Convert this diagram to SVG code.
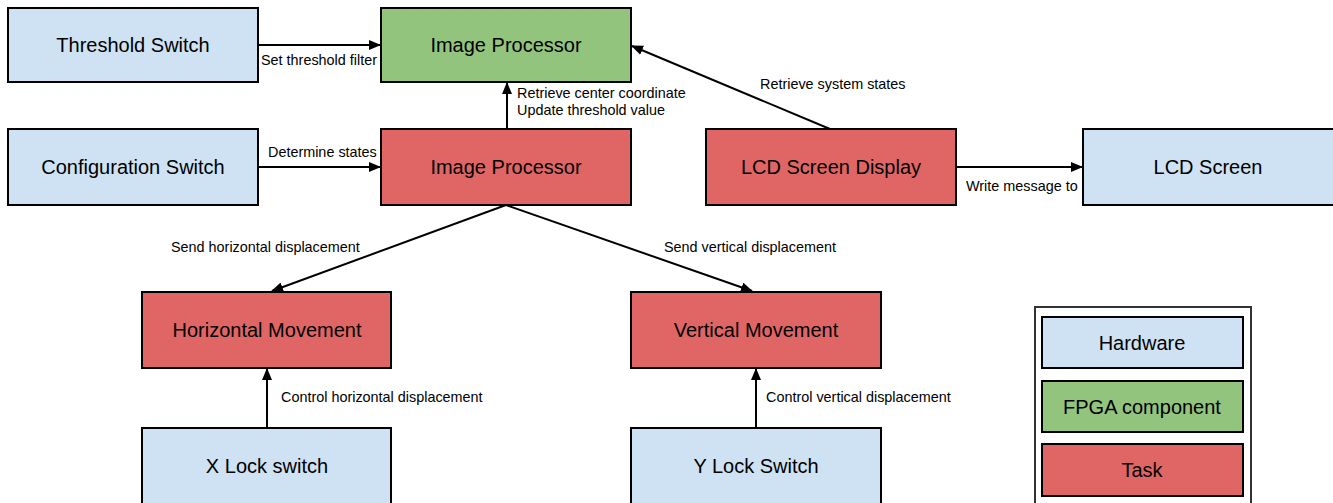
<svg xmlns="http://www.w3.org/2000/svg" width="1333" height="503" viewBox="0 0 1333 503">
<style>
.box{stroke:#000;stroke-width:2}
.hw{fill:#cfe2f3}
.fpga{fill:#93c47d}
.task{fill:#e06666}
.t{font-family:"Liberation Sans",Arial,sans-serif;font-size:20px;fill:#000;text-anchor:middle}
.l{font-family:"Liberation Sans",Arial,sans-serif;font-size:14.4px;fill:#000}
.c{stroke:#000;stroke-width:2;fill:none;marker-end:url(#ah)}
</style>
<defs>
<marker id="ah" markerUnits="userSpaceOnUse" markerWidth="12" markerHeight="10" refX="11" refY="5" orient="auto">
<path d="M0,0 L12,5 L0,10 Z" fill="#000"/>
</marker>
</defs>
<rect width="1333" height="503" fill="#fff"/>
<g id="connectors">
<line class="c" x1="258" y1="45" x2="380" y2="45"/>
<line class="c" x1="258" y1="167" x2="380" y2="167"/>
<line class="c" x1="507" y1="129" x2="507" y2="83"/>
<line class="c" x1="830" y1="129" x2="632" y2="46"/>
<line class="c" x1="956" y1="167" x2="1082" y2="167"/>
<line class="c" x1="506" y1="205" x2="272" y2="291"/>
<line class="c" x1="506" y1="205" x2="752" y2="291"/>
<line class="c" x1="267" y1="428" x2="267" y2="369"/>
<line class="c" x1="756" y1="428" x2="756" y2="369"/>
<text class="l" x="261" y="65">Set threshold filter</text>
<text class="l" x="268" y="157">Determine states</text>
<text class="l" x="517" y="98">Retrieve center coordinate</text>
<text class="l" x="517" y="115">Update threshold value</text>
<text class="l" x="760" y="89">Retrieve system states</text>
<text class="l" x="966" y="191">Write message to</text>
<text class="l" x="171" y="252">Send horizontal displacement</text>
<text class="l" x="664" y="252">Send vertical displacement</text>
<text class="l" x="281" y="402">Control horizontal displacement</text>
<text class="l" x="766" y="402">Control vertical displacement</text>
</g>
<g id="threshold-switch"><rect class="box hw" x="8" y="8" width="250" height="74"/><text class="t" x="133" y="52">Threshold Switch</text></g>
<g id="image-processor-fpga"><rect class="box fpga" x="381" y="8" width="250" height="74"/><text class="t" x="506" y="52">Image Processor</text></g>
<g id="configuration-switch"><rect class="box hw" x="8" y="129" width="250" height="76"/><text class="t" x="133" y="174">Configuration Switch</text></g>
<g id="image-processor-task"><rect class="box task" x="381" y="129" width="250" height="76"/><text class="t" x="506" y="174">Image Processor</text></g>
<g id="lcd-screen-display"><rect class="box task" x="706" y="129" width="250" height="76"/><text class="t" x="831" y="174">LCD Screen Display</text></g>
<g id="lcd-screen"><rect class="box hw" x="1083" y="129" width="252" height="76"/><text class="t" x="1208" y="174">LCD Screen</text></g>
<g id="horizontal-movement"><rect class="box task" x="142" y="292" width="249" height="76"/><text class="t" x="267" y="337">Horizontal Movement</text></g>
<g id="vertical-movement"><rect class="box task" x="631" y="292" width="250" height="76"/><text class="t" x="756" y="337">Vertical Movement</text></g>
<g id="x-lock-switch"><rect class="box hw" x="142" y="428" width="249" height="80"/><text class="t" x="267" y="473">X Lock switch</text></g>
<g id="y-lock-switch"><rect class="box hw" x="631" y="428" width="250" height="80"/><text class="t" x="756" y="473">Y Lock Switch</text></g>
<g id="legend">
<rect x="1035" y="307" width="216" height="200" fill="#fff" stroke="#333" stroke-width="2"/>
<rect class="box hw" x="1042" y="317" width="201" height="51"/><text class="t" x="1142" y="350">Hardware</text>
<rect class="box fpga" x="1042" y="381" width="201" height="51"/><text class="t" x="1142" y="414">FPGA component</text>
<rect class="box task" x="1042" y="444" width="201" height="52"/><text class="t" x="1142" y="477">Task</text>
</g>
</svg>
